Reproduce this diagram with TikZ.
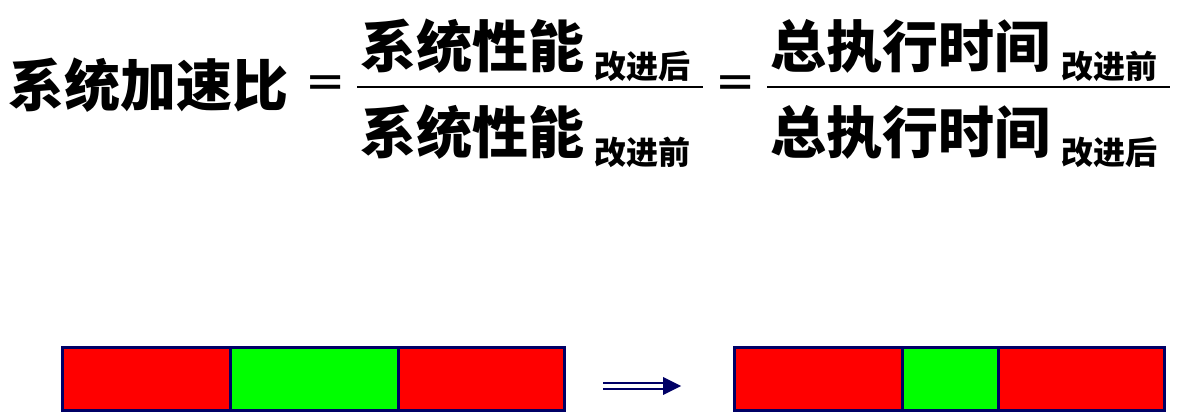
\documentclass[tikz,border=0pt]{standalone}
\usepackage{fontspec}
\newfontfamily\cjk{Noto Sans CJK SC}
\newfontfamily\dejavu{DejaVu Sans}
\definecolor{navy}{RGB}{0,0,102}
\definecolor{bred}{RGB}{255,0,0}
\definecolor{bgreen}{RGB}{0,255,0}
\begin{document}
\begin{tikzpicture}[x=1pt,y=1pt,
  big/.style={inner sep=0pt, font=\cjk\bfseries\fontsize{56}{56}\selectfont},
  sub/.style={inner sep=0pt, font=\cjk\bfseries\fontsize{32}{32}\selectfont},
  eqs/.style={inner sep=0pt, font=\dejavu\fontsize{48}{48}\selectfont},
  seg/.style={draw=navy, line width=3pt, inner sep=0pt, minimum height=63pt, anchor=south west},
]
\useasboundingbox (0,0) rectangle (1182,414);
% left side
\node[big, anchor=west] (lhs) at (8,329) {系统加速比};
\node[eqs] (eq1) at (325.5,327) {=};
\draw[line width=2pt] (357,327) coordinate (f1a) -- (703,327) coordinate (f1b);
\node[big, anchor=west] (n1) at (360,368) {系统性能};
\node[sub, anchor=west] (n1s) at (594,348) {改进后};
\node[big, anchor=west] (d1) at (360,282) {系统性能};
\node[sub, anchor=west] (d1s) at (594,262) {改进前};
\node[eqs] (eq2) at (736,327) {=};
\draw[line width=2pt] (767,327) coordinate (f2a) -- (1170,327) coordinate (f2b);
\node[big, anchor=west] (n2) at (770,368) {总执行时间};
\node[sub, anchor=west] (n2s) at (1061,348) {改进前};
\node[big, anchor=west] (d2) at (770,282) {总执行时间};
\node[sub, anchor=west] (d2s) at (1061,262) {改进后};
% bars
\node[seg, fill=bred, minimum width=168pt] (a1) at (61,2) {};
\node[seg, fill=bgreen, minimum width=168pt] (a2) at (229,2) {};
\node[seg, fill=bred, minimum width=166pt] (a3) at (397,2) {};
\node[seg, fill=bred, minimum width=168pt] (b1) at (733,2) {};
\node[seg, fill=bgreen, minimum width=96pt] (b2) at (901,2) {};
\node[seg, fill=bred, minimum width=166pt] (b3) at (997,2) {};
% arrow
\coordinate (ar1) at (603,28);
\coordinate (ar2) at (681,28);
\draw[navy, line width=2.5pt] ([yshift=3pt]ar1) -- ([xshift=-14pt,yshift=3pt]ar2);
\draw[navy, line width=2.5pt] ([yshift=-3pt]ar1) -- ([xshift=-14pt,yshift=-3pt]ar2);
\fill[navy] (ar2) -- ([xshift=-18pt,yshift=9pt]ar2) -- ([xshift=-18pt,yshift=-9pt]ar2) -- cycle;
\end{tikzpicture}
\end{document}
